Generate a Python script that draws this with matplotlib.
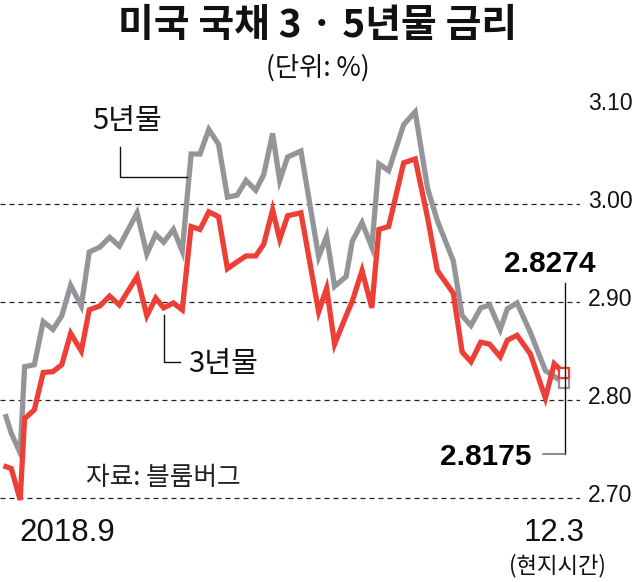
import matplotlib
matplotlib.use("Agg")
import matplotlib.pyplot as plt
from matplotlib.lines import Line2D
from matplotlib.transforms import blended_transform_factory

# ---------------- data ----------------
days = [0, 0.6, 1.6, 2.1, 3.2, 4.2, 5.3, 6.3, 7.3, 8.5,
        9.4, 10.6, 11.7, 12.8, 14.8, 15.9, 16.9, 17.8, 18.9, 19.9,
        20.9, 21.9, 22.9, 24.0, 25.0, 26.1, 27.1, 28.2, 29.1, 30.1,
        30.9, 31.8, 33.3, 35.3, 36.2, 37.1, 38.4, 39.1, 40.2, 41.3,
        42.1, 43.2, 44.9, 46.2, 47.6, 48.7, 50.5, 51.5, 52.5, 53.6,
        54.6, 55.8, 56.6, 57.7, 59.2, 60.9, 61.9, 63]

yield_5y = [2.783, 2.766, 2.746, 2.834, 2.836, 2.880, 2.872, 2.886, 2.917, 2.896,
            2.951, 2.956, 2.966, 2.957, 2.991, 2.949, 2.969, 2.961, 2.974, 2.952,
            3.051, 3.051, 3.076, 3.061, 3.007, 3.009, 3.024, 3.014, 3.030, 3.072,
            3.024, 3.048, 3.054, 2.946, 2.967, 2.916, 2.926, 2.962, 2.981, 2.956,
            3.041, 3.034, 3.081, 3.094, 3.016, 2.983, 2.942, 2.886, 2.876, 2.894,
            2.897, 2.872, 2.893, 2.899, 2.869, 2.830, 2.824, 2.8175]

yield_3y = [2.732, 2.730, 2.698, 2.781, 2.790, 2.828, 2.829, 2.836, 2.868, 2.850,
            2.892, 2.896, 2.906, 2.897, 2.926, 2.886, 2.904, 2.894, 2.899, 2.892,
            2.977, 2.974, 2.992, 2.987, 2.934, 2.941, 2.947, 2.947, 2.959, 2.994,
            2.964, 2.988, 2.991, 2.890, 2.914, 2.857, 2.886, 2.901, 2.932, 2.894,
            2.974, 2.977, 3.042, 3.046, 2.986, 2.932, 2.909, 2.849, 2.839, 2.859,
            2.857, 2.844, 2.861, 2.866, 2.847, 2.802, 2.837, 2.8274]

y_ticks = [2.70, 2.80, 2.90, 3.00, 3.10]
y_tick_labels = ["2.70", "2.80", "2.90", "3.00", "3.10"]
grid_values = [2.70, 2.80, 2.90, 3.00]

title = "미국 국채 3 · 5년물 금리"
unit = "(단위: %)"
label_5y = "5년물"
label_3y = "3년물"
source = "자료: 블룸버그"
x_start = "2018.9"
x_end = "12.3"
x_end_note = "(현지시간)"
last_3y_text = "2.8274"
last_5y_text = "2.8175"

# ---------------- style ----------------
W, H = 636, 582
GRAY = "#949599"
RED = "#EE3F36"
KR = ["Noto Sans CJK KR", "DejaVu Sans"]
NUM = ["Liberation Sans Narrow", "Liberation Sans", "DejaVu Sans"]

fig = plt.figure(figsize=(W / 100, H / 100), dpi=100)
fig.patch.set_facecolor("white")


def fx(x):
    return x / W


def fy(y):
    return 1 - y / H


# axes: px 0..580 horizontally, px 90..510 vertically
ax = fig.add_axes([0, fy(510), fx(580), (510 - 90) / H])
ax.set_xlim(-6 / 8.857, (580 - 6) / 8.857)
ax.set_ylim(3.00 - (510 - 204) / 980, 3.00 + (204 - 90) / 980)
ax.axis("off")

for g in grid_values:
    ax.axhline(g, color="#222222", lw=0.9, ls=(0, (4, 3.2)), zorder=1)

ax.plot(days, yield_5y, color=GRAY, lw=3.8, solid_joinstyle="miter", zorder=3)
ax.plot(days, yield_3y, color=RED, lw=3.8, solid_joinstyle="miter", zorder=4)

# end markers
ax.plot([days[-1]], [yield_5y[-1]], marker="s", ms=7.5, mfc="white",
        mec=GRAY, mew=1.6, zorder=6, ls="none")
ax.plot([days[-1]], [yield_3y[-1]], marker="s", ms=7.5, mfc="white",
        mec=RED, mew=1.6, zorder=6, ls="none")

# right-side value labels
tr = blended_transform_factory(ax.transAxes, ax.transData)
for v, lab in zip(y_ticks, y_tick_labels):
    ax.text(588 / 580, v + 0.003, lab, transform=tr, ha="left", va="center",
            fontsize=16.5, family=NUM, color="#111111", clip_on=False)


def fline(xs, ys, color="#111111", lw=1.0, z=2):
    fig.add_artist(Line2D([fx(x) for x in xs], [fy(y) for y in ys],
                          transform=fig.transFigure, color=color, lw=lw,
                          zorder=z))


# leader lines
fline([120, 120, 187], [147, 177, 177])
fline([164, 164, 180], [315, 362, 362])
fline([564.5, 564.5], [283, 454], z=1)
fline([543, 564.5], [454, 454], color="#777777", lw=1.2)

# texts
fig.text(fx(318), fy(25), title, ha="center", va="center", fontsize=28,
         fontweight=900, family=KR, color="#111111")
fig.text(fx(318), fy(68), unit, ha="center", va="center", fontsize=19,
         family=KR, color="#111111")
fig.text(fx(127), fy(121), label_5y, ha="center", va="center", fontsize=21,
         family=KR, color="#111111")
fig.text(fx(223), fy(364), label_3y, ha="center", va="center", fontsize=21,
         family=KR, color="#111111")
fig.text(fx(163), fy(478), source, ha="center", va="center", fontsize=18.5,
         family=KR, color="#222222")
fig.text(fx(67), fy(533), x_start, ha="center", va="center", fontsize=22.5,
         family=NUM, color="#111111")
fig.text(fx(554), fy(533), x_end, ha="center", va="center", fontsize=22.5,
         family=NUM, color="#111111")
fig.text(fx(557), fy(566), x_end_note, ha="center", va="center", fontsize=16,
         family=KR, color="#111111")
fig.text(fx(550), fy(264), last_3y_text, ha="center", va="center",
         fontsize=21.5, fontweight="bold", family=NUM, color="#000000")
fig.text(fx(486), fy(457), last_5y_text, ha="center", va="center",
         fontsize=21.5, fontweight="bold", family=NUM, color="#000000")

fig.savefig("out.png", dpi=100, facecolor="white")
